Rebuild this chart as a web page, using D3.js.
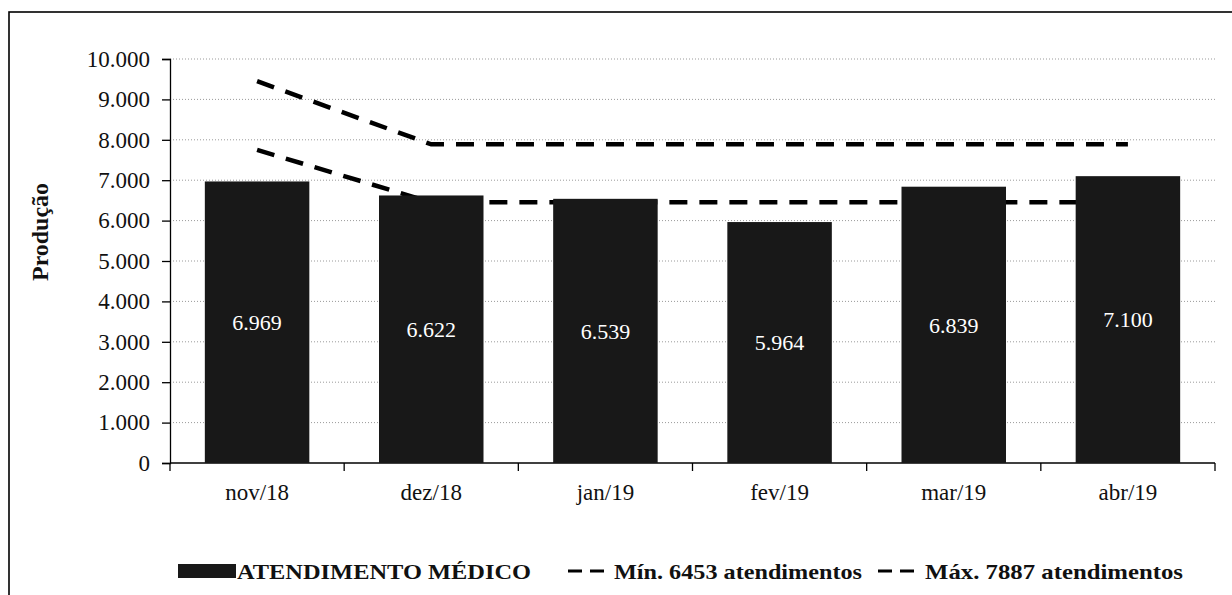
<!DOCTYPE html>
<html>
<head>
<meta charset="utf-8">
<script src="https://cdn.jsdelivr.net/npm/d3@7"></script>
<style>
  html, body { margin: 0; padding: 0; background: #fff; }
  svg { display: block; font-family: "Liberation Serif", "Times New Roman", serif; }
</style>
</head>
<body>
<svg id="chart" width="1232" height="595"></svg>
<script>
// ---- data ----
const categories = ["nov/18", "dez/18", "jan/19", "fev/19", "mar/19", "abr/19"];
const atendimentos = [6969, 6622, 6539, 5964, 6839, 7100];
const minLine = [7750, 6453, 6453, 6453, 6453, 6453];
const maxLine = [9450, 7887, 7887, 7887, 7887, 7887];
const yTicks = [0, 1000, 2000, 3000, 4000, 5000, 6000, 7000, 8000, 9000, 10000];
const seriesNames = ["ATENDIMENTO MÉDICO", "Mín. 6453 atendimentos", "Máx. 7887 atendimentos"];
const yTitle = "Produção";

// ---- layout ----
const svg = d3.select("#chart");
const plotLeft = 170, plotRight = 1215, plotTop = 59, plotBottom = 463;
const barColor = "#181818";

const locale = d3.formatLocale({ decimal: ",", thousands: ".", grouping: [3], currency: ["R$", ""] });
const fmt = locale.format(",d");

const x = d3.scaleBand().domain(categories).range([plotLeft, plotRight]).paddingInner(0.4).paddingOuter(0.2);
const y = d3.scaleLinear().domain([0, 10000]).range([plotBottom, plotTop]);

// outer border
svg.append("rect").attr("x", 9).attr("y", 12).attr("width", 1240).attr("height", 620)
  .attr("fill", "none").attr("stroke", "#000").attr("stroke-width", 1.6);

// gridlines
svg.append("g").selectAll("line").data(yTicks.filter(d => d > 0)).join("line")
  .attr("x1", plotLeft).attr("x2", plotRight)
  .attr("y1", d => y(d)).attr("y2", d => y(d))
  .attr("stroke", "#9a9a9a").attr("stroke-width", 1).attr("stroke-dasharray", "1,2");

// y axis
const yAxis = d3.axisLeft(y).tickValues(yTicks).tickSize(8).tickPadding(12).tickFormat(fmt);
const gy = svg.append("g").attr("transform", `translate(${plotLeft},0)`).call(yAxis);
gy.select(".domain").attr("stroke", "#000").attr("stroke-width", 1.3);
gy.selectAll(".tick line").attr("stroke", "#000").attr("stroke-width", 1.3);
gy.selectAll(".tick text").attr("font-size", 23).attr("fill", "#111")
  .attr("font-family", "'Liberation Serif', 'Times New Roman', serif");

// x axis
const gx = svg.append("g").attr("transform", `translate(0,${plotBottom})`);
gx.append("line").attr("x1", plotLeft).attr("x2", plotRight).attr("stroke", "#000").attr("stroke-width", 1.5);
const bounds = d3.range(categories.length + 1).map(i => plotLeft + i * x.step());
gx.selectAll("line.tk").data(bounds).join("line").attr("class", "tk")
  .attr("x1", d => d).attr("x2", d => d).attr("y1", 0).attr("y2", 8)
  .attr("stroke", "#000").attr("stroke-width", 1.3);
gx.selectAll("text").data(categories).join("text")
  .attr("x", d => x(d) + x.bandwidth() / 2).attr("y", 37)
  .attr("text-anchor", "middle").attr("font-size", 23).attr("fill", "#111")
  .text(d => d);

// lines (drawn under the bars)
const lineGen = d3.line().x((d, i) => x(categories[i]) + x.bandwidth() / 2).y(d => y(d));
[minLine, maxLine].forEach(arr => {
  svg.append("path").datum(arr).attr("d", lineGen)
    .attr("fill", "none").attr("stroke", "#000").attr("stroke-width", 4.5)
    .attr("stroke-dasharray", "18,12");
});

// bars
svg.append("g").selectAll("rect").data(atendimentos).join("rect")
  .attr("x", (d, i) => x(categories[i])).attr("width", x.bandwidth())
  .attr("y", d => y(d)).attr("height", d => plotBottom - y(d))
  .attr("fill", barColor);

// bar labels (centered)
svg.append("g").selectAll("text").data(atendimentos).join("text")
  .attr("x", (d, i) => x(categories[i]) + x.bandwidth() / 2)
  .attr("y", d => (y(d) + plotBottom) / 2)
  .attr("dy", "0.35em").attr("text-anchor", "middle")
  .attr("font-size", 22).attr("fill", "#fff")
  .text(d => fmt(d));

// y title
svg.append("text").attr("transform", "translate(48,232) rotate(-90)")
  .attr("text-anchor", "middle").attr("font-size", 24).attr("font-weight", "bold")
  .attr("fill", "#111").attr("textLength", 98).attr("lengthAdjust", "spacingAndGlyphs").text(yTitle);

// legend
const ly = 571;
const lg = svg.append("g");
lg.append("rect").attr("x", 178).attr("y", ly - 7).attr("width", 58).attr("height", 14).attr("fill", barColor);
lg.append("text").attr("x", 237).attr("y", ly).attr("dy", "0.35em")
  .attr("font-size", 22).attr("font-weight", "bold").attr("fill", "#111")
  .attr("textLength", 294).attr("lengthAdjust", "spacingAndGlyphs").text(seriesNames[0]);
const legItems = [
  { x0: 568, tx: 614, w: 248, name: seriesNames[1] },
  { x0: 878, tx: 925, w: 258, name: seriesNames[2] }
];
legItems.forEach(it => {
  lg.append("line").attr("x1", it.x0).attr("x2", it.x0 + 36).attr("y1", ly).attr("y2", ly)
    .attr("stroke", "#000").attr("stroke-width", 3).attr("stroke-dasharray", "14,8");
  lg.append("text").attr("x", it.tx).attr("y", ly).attr("dy", "0.35em")
    .attr("font-size", 22).attr("font-weight", "bold").attr("fill", "#111")
    .attr("textLength", it.w).attr("lengthAdjust", "spacingAndGlyphs").text(it.name);
});
</script>
</body>
</html>
